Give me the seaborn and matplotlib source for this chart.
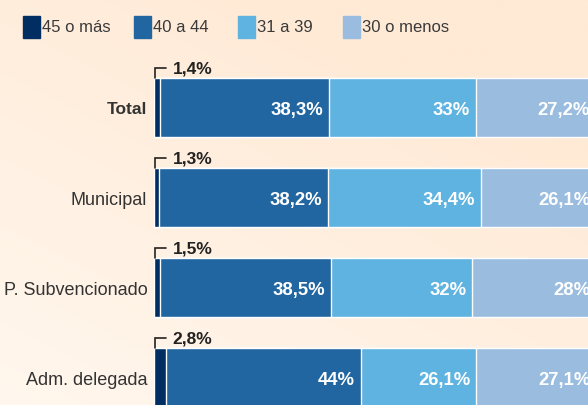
import numpy as np
import pandas as pd
import seaborn as sns
import matplotlib.pyplot as plt
from matplotlib.patches import Rectangle

sns.set_theme(style='white')
plt.rcParams['font.family'] = ['Liberation Sans', 'DejaVu Sans']

categories = ['Total', 'Municipal', 'P. Subvencionado', 'Adm. delegada']
groups = ['45 o más', '40 a 44', '31 a 39', '30 o menos']
v45 = [1.4, 1.3, 1.5, 2.8]
v40 = [38.3, 38.2, 38.5, 44.0]
v31 = [33.0, 34.4, 32.0, 26.1]
v30 = [27.2, 26.1, 28.0, 27.1]
labels45 = ['1,4%', '1,3%', '1,5%', '2,8%']
labels40 = ['38,3%', '38,2%', '38,5%', '44%']
labels31 = ['33%', '34,4%', '32%', '26,1%']
labels30 = ['27,2%', '26,1%', '28%', '27,1%']

colors = ['#002d62', '#2166a0', '#5eb3e0', '#99bcdf']

df = pd.DataFrame({'cat': categories, '45 o más': v45, '40 a 44': v40,
                   '31 a 39': v31, '30 o menos': v30})
cum = df[groups].cumsum(axis=1)
cum['cat'] = df['cat']

W, H = 588, 406
fig = plt.figure(figsize=(W / 100, H / 100), dpi=100)

# background gradient
bg = fig.add_axes([0, 0, 1, 1], zorder=0)
xx, yy = np.meshgrid(np.linspace(0, 1, 200), np.linspace(0, 1, 200))
t = np.clip(0.55 * xx + 0.75 * yy, 0, 1)
top = np.array([255, 234, 214]) / 255
low = np.array([255, 247, 238]) / 255
img = low[None, None, :] * (1 - t[..., None]) + top[None, None, :] * t[..., None]
bg.imshow(img, origin='lower', extent=[0, 1, 0, 1], aspect='auto')
bg.axis('off')

x0 = 153.5
ppu = 4.43
ax = fig.add_axes([x0 / W, 0, 1 - x0 / W, 1], zorder=1)
ax.patch.set_alpha(0)

for g, c in reversed(list(zip(groups, colors))):
    sns.barplot(data=cum, x=g, y='cat', order=categories, color=c,
                saturation=1, width=0.656, edgecolor='white', linewidth=1,
                errorbar=None, orient='h', ax=ax)

ax.set_xlim(0, (W - x0) / ppu)
y_top, y_step = 108.5, 90
ax.set_ylim((H - y_top) / y_step, -y_top / y_step)
ax.set_xlabel('')
ax.set_ylabel('')
ax.set_xticks([])
sns.despine(ax=ax, left=True, bottom=True)
ax.tick_params(axis='y', length=0, pad=4.5, labelsize=13, labelcolor='#333333')
for lbl in ax.get_yticklabels():
    if lbl.get_text() == 'Total':
        lbl.set_fontweight('bold')
        lbl.set_fontsize(12.5)

off = 6 / ppu
for i in range(len(categories)):
    ends = cum.loc[i, groups].values
    for end, txt in zip(ends[1:], [labels40[i], labels31[i], labels30[i]]):
        ax.text(end - off, i + 0.02, txt, ha='right', va='center', color='white',
                fontsize=13.3, fontweight='bold')
    # bracket for the small segment
    yb = i - 0.328
    yl = i - 0.44
    ax.plot([0.45, 0.45, 2.9], [yb, yl, yl], color='#222222', lw=1.2,
            solid_joinstyle='miter', clip_on=False)
    ax.text(4.3, yl, labels45[i], ha='left', va='center', color='#222222',
            fontsize=12.5, fontweight='bold')

# legend
lx = [23, 134, 238, 343]
for x, g, c in zip(lx, groups, colors):
    fig.add_artist(Rectangle((x / W, 1 - 39 / H), 17 / W, 22 / H,
                             transform=fig.transFigure, color=c, zorder=3))
    fig.text((x + 19) / W, 1 - 27 / H, g, ha='left', va='center',
             fontsize=12, color='#3a3a3a', zorder=3)

fig.savefig('out.png', dpi=100)
